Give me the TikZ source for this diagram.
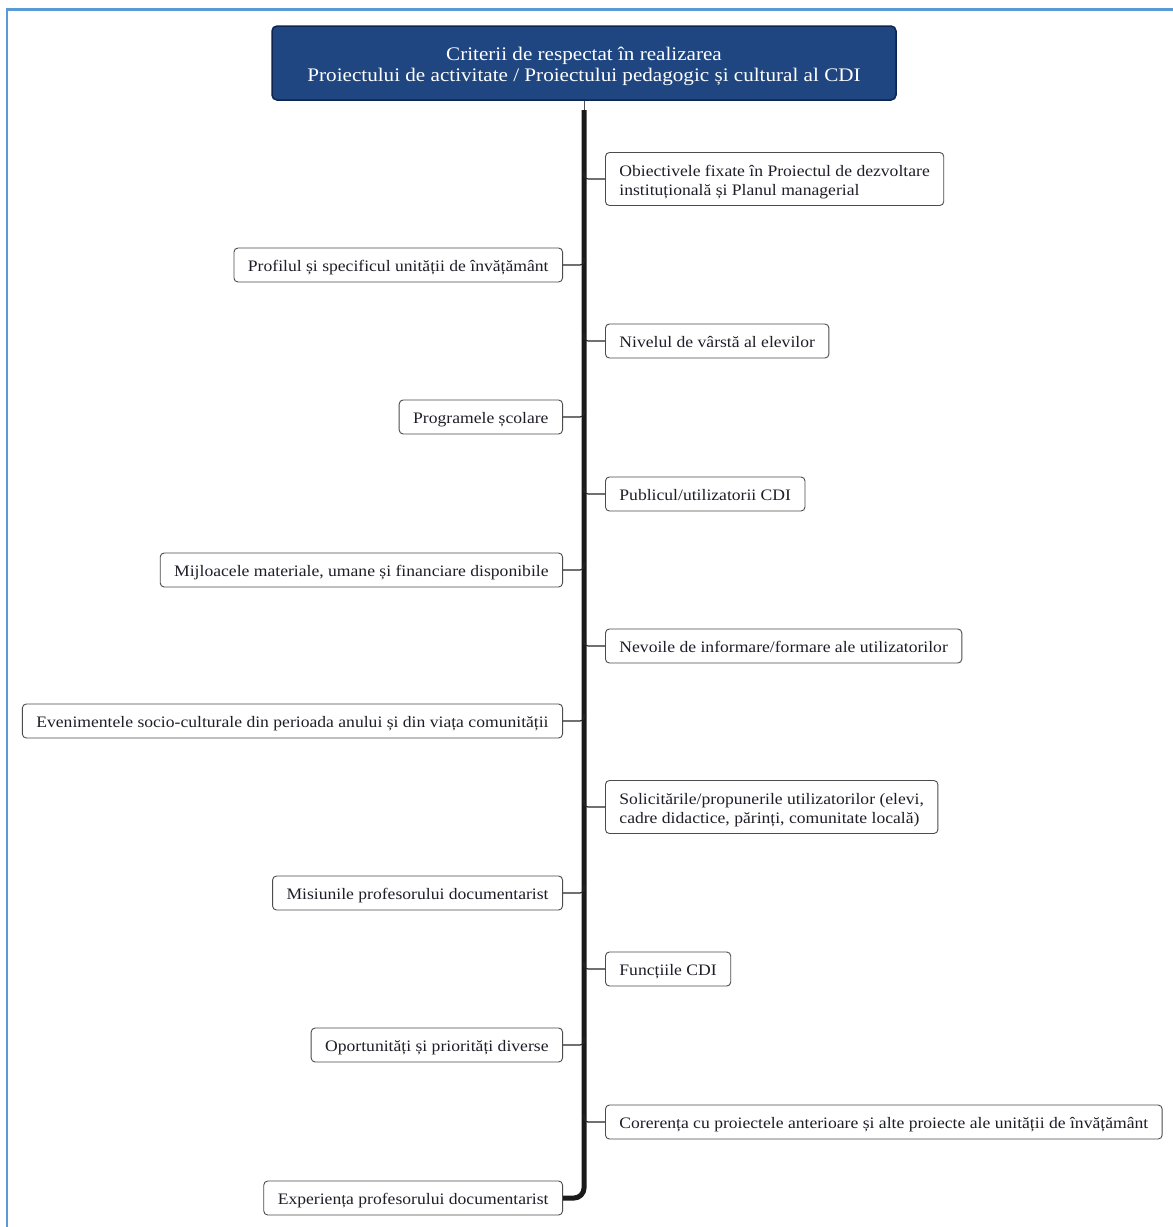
\documentclass[tikz,border=0pt]{standalone}
\usepackage{fontspec}
\setmainfont{Liberation Serif}[FakeStretch=1.1]
\usetikzlibrary{calc}
\definecolor{frameblue}{HTML}{5B9BD5}
\definecolor{titlefill}{HTML}{1F4680}
\definecolor{titledraw}{HTML}{0E2452}
\definecolor{boxtext}{HTML}{1E1E28}
\definecolor{spinecol}{HTML}{1A1A1A}
\newcommand{\lift}{\rule{0pt}{17pt}}
\begin{document}
\begin{tikzpicture}[x=1pt,y=-1pt,
  item/.style={draw=black!70, line width=0.9pt, fill=white, rounded corners=4pt,
    inner xsep=14pt, inner ysep=0pt, minimum height=34pt, text=boxtext,
    font=\fontsize{16}{19}\selectfont},
  oneline/.style={text height=12pt, text depth=0pt},
  twoline/.style={align=left, minimum height=53pt},
  ritem/.style={item, anchor=west},
  litem/.style={item, oneline, anchor=east},
  branch/.style={draw=black!85, line width=1.1pt, rounded corners=4pt},
  spine/.style={draw=spinecol, line width=5pt, rounded corners=10pt}
]
\useasboundingbox (0,0) rectangle (1173,1227);
\fill[white] (0,0) rectangle (1173,1227);
\draw[frameblue, line width=2.5pt] (7,1227) -- (7,9.5) -- (1173,9.5);

% title
\node[draw=titledraw, line width=1.5pt, fill=titlefill, rounded corners=5pt,
  minimum width=624pt, minimum height=74pt, text=white, align=center,
  font=\fontsize{19.2}{21}\selectfont] (title) at (584,63)
  {\rule{0pt}{20pt}Criterii de respectat în realizarea\\Proiectului de activitate / Proiectului pedagogic și cultural al CDI};

\coordinate (sTop) at (584,110);
\coordinate (sBot) at (584,1198);

% right items
\node[ritem, twoline] (r1) at (605,179) {\lift Obiectivele fixate în Proiectul de dezvoltare\\instituțională și Planul managerial};
\node[ritem, oneline] (r2) at (605,341) {Nivelul de vârstă al elevilor};
\node[ritem, oneline] (r3) at (605,494) {Publicul/utilizatorii CDI};
\node[ritem, oneline] (r4) at (605,646) {Nevoile de informare/formare ale utilizatorilor};
\node[ritem, twoline] (r5) at (605,807) {\lift Solicitările/propunerile utilizatorilor (elevi,\\cadre didactice, părinți, comunitate locală)};
\node[ritem, oneline] (r6) at (605,969) {Funcțiile CDI};
\node[ritem, oneline] (r7) at (605,1122) {Corerența cu proiectele anterioare și alte proiecte ale unității de învățământ};

% left items
\node[litem] (l1) at (563,265) {Profilul și specificul unității de învățământ};
\node[litem] (l2) at (563,417) {Programele școlare};
\node[litem] (l3) at (563,570) {Mijloacele materiale, umane și financiare disponibile};
\node[litem] (l4) at (563,721) {Evenimentele socio-culturale din perioada anului și din viața comunității};
\node[litem] (l5) at (563,893) {Misiunile profesorului documentarist};
\node[litem] (l6) at (563,1045) {Oportunități și priorități diverse};
\node[litem] (l7) at (563,1198) {Experiența profesorului documentarist};

% trunk
\draw[black!70, line width=0.8pt] (title.south -| sTop) -- (sTop);
\path[spine] (sTop) -- (sBot) -- (l7.east);

% branches
\foreach \n in {r1,r2,r3,r4,r5,r6,r7}{
  \path[branch] (\n.west) -- (\n.west -| sTop) -- ($(\n.west -| sTop)+(0,-7)$);
}
\foreach \n in {l1,l2,l3,l4,l5,l6}{
  \path[branch] (\n.east) -- (\n.east -| sTop) -- ($(\n.east -| sTop)+(0,-7)$);
}
\end{tikzpicture}
\end{document}
